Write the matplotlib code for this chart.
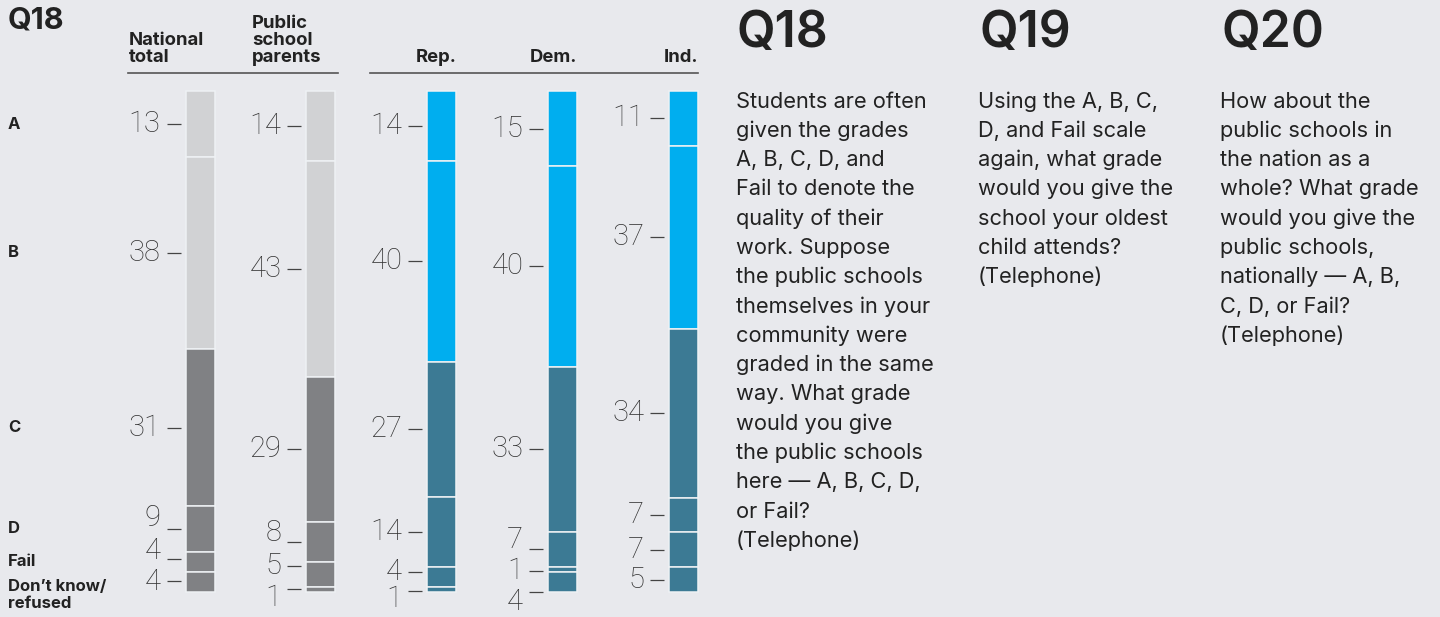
import numpy as np
import matplotlib.pyplot as plt
from matplotlib import font_manager

# data
groups = ["National\ntotal", "Public\nschool\nparents", "Rep.", "Dem.", "Ind."]
grades = ["A", "B", "C", "D", "Fail", "Don\u2019t know/\nrefused"]
national = [13, 38, 31, 9, 4, 4]
parents = [14, 43, 29, 8, 5, 1]
rep = [14, 40, 27, 14, 4, 1]
dem = [15, 40, 33, 7, 1, 4]
ind = [11, 37, 34, 7, 7, 5]
series = [national, parents, rep, dem, ind]

q_titles = ["Q18", "Q19", "Q20"]
q18_text = ["Students are often", "given the grades", "A, B, C, D, and",
            "Fail to denote the", "quality of their", "work. Suppose",
            "the public schools", "themselves in your", "community were",
            "graded in the same", "way. What grade", "would you give",
            "the public schools", "here \u2014 A, B, C, D,", "or Fail?",
            "(Telephone)"]
q19_text = ["Using the A, B, C,", "D, and Fail scale", "again, what grade",
            "would you give the", "school your oldest", "child attends?",
            "(Telephone)"]
q20_text = ["How about the", "public schools in", "the nation as a",
            "whole? What grade", "would you give the", "public schools,",
            "nationally \u2014 A, B,", "C, D, or Fail?", "(Telephone)"]

# manual label nudges in pixels (to keep small numbers from overlapping)
num_nudge = [[0, 0, 0, -11, -11, 0], [0, 0, 0, -9, -8, 9], [0, 0, 0, 0, -5, 10],
             [0, 0, 0, -9, 2, 20], [0, 0, 0, 0, 0, 0]]
dash_nudge = [[0, 0, 0, 0, -3, -1], [0, 0, 0, 0, -8, 0], [0, 0, 0, 0, -5, 2],
              [0, 0, 0, 0, 2, 10], [0, 0, 0, 0, 0, 0]]

BG = "#e8e9ed"
LIGHT, DARK = "#d1d2d4", "#808184"
BLUE, TEAL = "#00aeef", "#3c7a94"
TXT = "#222222"

avail = {f.name for f in font_manager.fontManager.ttflist}
SANS = "Inter" if "Inter" in avail else "DejaVu Sans"
NUMF = "Roboto" if "Roboto" in avail else "DejaVu Sans"

W, H = 1440, 617
fig = plt.figure(figsize=(W / 100, H / 100), dpi=100)
fig.patch.set_facecolor(BG)

# axes covering whole figure; x unit = one bar slot, y unit = 100 %
x0, step = 200, 120.9
top, hgt = 91, 501
ax = fig.add_axes([0, 0, 1, 1])
ax.set_xlim(-x0 / step, (W - x0) / step)
ax.set_ylim((H - top) / hgt, -top / hgt)
ax.axis("off")
ax.set_facecolor(BG)

px_x = 1 / step
px_y = 1 / hgt
bw = 29 * px_x


def fx(px):
    return px / W


def fy(py):
    return 1 - py / H


for i, vals in enumerate(series):
    v = np.array(vals, dtype=float)
    frac = v / v.sum()
    bottoms = np.cumsum(frac) - frac
    if i < 2:
        cols = [LIGHT, LIGHT] + [DARK] * 4
    else:
        cols = [BLUE, BLUE] + [TEAL] * 4
    ax.bar(i, frac, bottom=bottoms, width=bw, color=cols,
           edgecolor="#eef1f4", linewidth=1.1)
    mids = bottoms + frac / 2
    d_right = i - bw / 2 - 5 * px_x
    d_left = d_right - 14 * px_x
    for k, val in enumerate(vals):
        yd = mids[k] + dash_nudge[i][k] * px_y
        ax.plot([d_left, d_right], [yd, yd], color="#444444", lw=0.9,
                solid_capstyle="butt")
        yn = mids[k] + num_nudge[i][k] * px_y
        ax.text(d_left - 6 * px_x, yn, str(val), ha="right", va="center",
                fontsize=21, family=NUMF, fontweight="light", color="#333333")

# row labels aligned with the national bar
nat = np.array(national, dtype=float) / sum(national)
nat_mid = np.cumsum(nat) - nat / 2
row_nudge = [1, 0, 0, 0, 0, 13]
for k, g in enumerate(grades):
    ax.text(8 * px_x - x0 / step, nat_mid[k] + row_nudge[k] * px_y, g,
            ha="left", va="center", fontsize=12, fontweight="bold",
            family=SANS, color=TXT, linespacing=1.12)

# column headers
fig.text(fx(8), fy(29), "Q18", fontsize=22, fontweight="bold", family=SANS,
         color=TXT, va="baseline")
fig.text(fx(129), fy(62), groups[0], fontsize=13.3, fontweight="bold",
         family=SANS, color=TXT, va="baseline", linespacing=1.0)
fig.text(fx(252), fy(62), groups[1], fontsize=13.3, fontweight="bold",
         family=SANS, color=TXT, va="baseline", linespacing=1.0)
for i in range(2, 5):
    ax.text(i + bw / 2, (62 - top) * px_y, groups[i], ha="right",
            va="baseline", fontsize=13.3, fontweight="bold", family=SANS,
            color=TXT)
yl = (73 - top) * px_y
ax.plot([(128 - x0) * px_x, (338 - x0) * px_x], [yl, yl], color="#555555", lw=1.2)
ax.plot([(370 - x0) * px_x, (698 - x0) * px_x], [yl, yl], color="#555555", lw=1.2)

# question texts on the right
cols_x = [737, 979, 1221]
for qx, title, lines in zip(cols_x, q_titles, [q18_text, q19_text, q20_text]):
    fig.text(fx(qx), fy(47), title, fontsize=36, fontweight="semibold",
             family=SANS, color=TXT, va="baseline")
    for n, line in enumerate(lines):
        fig.text(fx(qx - 1), fy(107.5 + n * 29.3), line, fontsize=15.7,
                 family=SANS, color=TXT, va="baseline")

fig.savefig("out.png", dpi=100, facecolor=BG)
